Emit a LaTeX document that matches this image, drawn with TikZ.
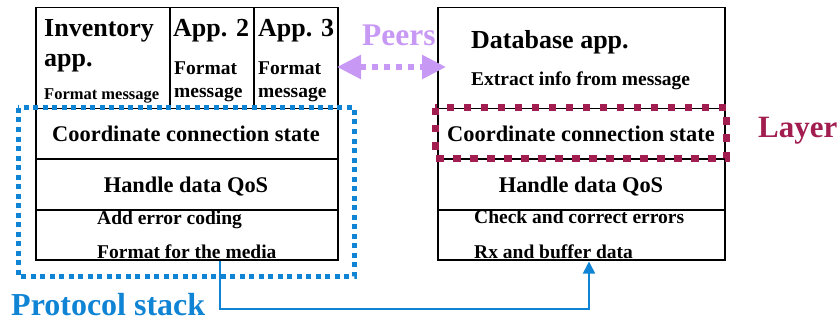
\documentclass[tikz,border=0pt]{standalone}
\usepackage{fontspec}
\setmainfont{Liberation Serif}
\usetikzlibrary{arrows.meta}
\definecolor{protoblue}{RGB}{16,132,212}
\definecolor{layermaroon}{RGB}{162,30,80}
\definecolor{peerlav}{RGB}{200,152,245}
\tikzset{
  stackbox/.style={draw=black, line width=1.5pt, inner sep=0pt, anchor=north west},
  bigtxt/.style={inner sep=0pt, anchor=base west, font=\bfseries\fontsize{26}{28}\selectfont},
  midtxt/.style={inner sep=0pt, anchor=base west, font=\bfseries\fontsize{19.5}{21}\selectfont},
  smalltxt/.style={inner sep=0pt, anchor=base west, font=\bfseries\fontsize{16.5}{18}\selectfont},
  rowtxt/.style={inner sep=0pt, anchor=base, font=\bfseries\fontsize{22.4}{24}\selectfont},
  labeltxt/.style={inner sep=0pt, anchor=base west, font=\bfseries\fontsize{32}{34}\selectfont},
  protoframe/.style={draw=protoblue, line width=5pt, dash pattern=on 5pt off 4.5pt},
  layerframe/.style={draw=layermaroon, line width=7pt, dash pattern=on 7.5pt off 9.5pt},
  conn/.style={draw=protoblue, line width=1.6pt},
  peerarrow/.style={draw=peerlav, line width=5.5pt, dash pattern=on 6pt off 6pt,
     {Triangle[width=23pt,length=24pt,fill=peerlav]}-{Triangle[width=23pt,length=24pt,fill=peerlav]}}
}
\begin{document}
\begin{tikzpicture}[x=1pt,y=-1pt]
\useasboundingbox (0,0) rectangle (840,326);
% left stack
\node[stackbox, minimum width=134pt, minimum height=101pt] (la1) at (35,7) {};
\node[stackbox, minimum width=84pt, minimum height=101pt] (la2) at (169,7) {};
\node[stackbox, minimum width=84pt, minimum height=101pt] (la3) at (253,7) {};
\node[stackbox, minimum width=302pt, minimum height=50pt] (lc) at (35,108) {};
\node[stackbox, minimum width=302pt, minimum height=51pt] (lq) at (35,158) {};
\node[stackbox, minimum width=302pt, minimum height=50pt] (lm) at (35,209) {};
% right stack
\node[stackbox, minimum width=287pt, minimum height=101pt] (ra) at (437,7) {};
\node[stackbox, minimum width=287pt, minimum height=50pt] (rc) at (437,108) {};
\node[stackbox, minimum width=287pt, minimum height=51pt] (rq) at (437,158) {};
\node[stackbox, minimum width=287pt, minimum height=50pt] (rm) at (437,209) {};
% left texts
\node[bigtxt] (t1) at (44,37) {Inventory};
\node[bigtxt] (t2) at (44,67) {app.};
\node[smalltxt] (t3) at (44,100) {Format message};
\node[bigtxt] (t4) at (173,37) {App. 2};
\node[midtxt] (t5) at (174,75) {Format};
\node[midtxt] (t6) at (174,98) {message};
\node[bigtxt] (t7) at (258,37) {App. 3};
\node[midtxt] (t8) at (258,75) {Format};
\node[midtxt] (t9) at (258,98) {message};
\node[rowtxt] (t10) at (186,142) {Coordinate connection state};
\node[rowtxt] (t11) at (186,192) {Handle data QoS};
\node[midtxt] (t12) at (97,224) {Add error coding};
\node[midtxt] (t13) at (97,258) {Format for the media};
% right texts
\node[bigtxt] (u1) at (471,49) {Database app.};
\node[midtxt] (u2) at (471,86) {Extract info from message};
\node[rowtxt] (u3) at (581,142) {Coordinate connection state};
\node[rowtxt] (u4) at (581,192) {Handle data QoS};
\node[midtxt] (u5) at (474,223) {Check and correct errors};
\node[midtxt] (u6) at (474,258) {Rx and buffer data};
% frames
\draw[protoframe] (18,108) rectangle (354,276);
\draw[layerframe] (435,108) rectangle (726,158);
% labels
\node[labeltxt, text=protoblue] (proto) at (11,315) {Protocol stack};
\node[labeltxt, text=layermaroon, font=\bfseries\fontsize{31}{33}\selectfont] (layer) at (758,138) {Layer};
\node[labeltxt, text=peerlav, font=\bfseries\fontsize{31.5}{33}\selectfont] (peers) at (362,46) {Peers};
% peers arrow
\coordinate (pl) at (337,67);
\coordinate (pr) at (446,67);
\draw[peerarrow] (pl) -- (pr);
% connector
\coordinate (src) at (220,309);
\coordinate (dst) at (589,309);
\draw[conn, -{Triangle[width=12pt,length=12pt]}] (lm.south -| src) -- (src) -- (dst) -- ([yshift=-1pt]rm.south -| dst);
\end{tikzpicture}
\end{document}
